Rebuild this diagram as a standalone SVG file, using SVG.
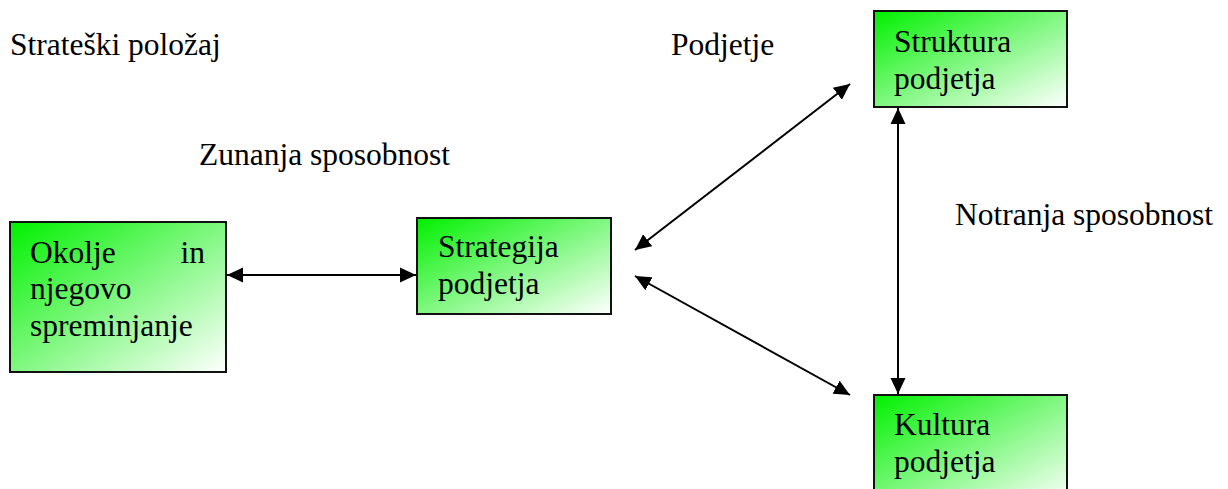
<svg xmlns="http://www.w3.org/2000/svg" width="1228" height="489" viewBox="0 0 1228 489">
<style>
.t{font-family:'Liberation Serif','Times New Roman',serif;font-size:31.5px;fill:#000}
.box{fill:url(#g);stroke:#111;stroke-width:2}
.c{stroke:#000;stroke-width:2;fill:none;marker-start:url(#a);marker-end:url(#a)}
</style>
<defs>
<linearGradient id="g" x1="0" y1="0" x2="1" y2="1">
<stop offset="0" stop-color="#00f000"/>
<stop offset="1" stop-color="#ffffff"/>
</linearGradient>
<marker id="a" viewBox="0 0 16 16" refX="16" refY="8" markerWidth="16" markerHeight="16" markerUnits="userSpaceOnUse" orient="auto-start-reverse">
<path d="M0,0.5 L16,8 L0,15.5 Z" fill="#000"/>
</marker>
</defs>
<rect width="1228" height="489" fill="#fff"/>
<g id="labels" class="t">
<text x="10" y="55">Strateški položaj</text>
<text x="671" y="55">Podjetje</text>
<text x="199" y="165">Zunanja sposobnost</text>
<text x="955" y="225">Notranja sposobnost</text>
</g>
<g id="okolje" class="t">
<rect class="box" x="10" y="222" width="216" height="150"/>
<text x="30" y="263">Okolje</text>
<text x="205" y="263" text-anchor="end">in</text>
<text x="30" y="299">njegovo</text>
<text x="30" y="336">spreminjanje</text>
</g>
<g id="strategija" class="t">
<rect class="box" x="417" y="218" width="194" height="96"/>
<text x="438" y="257">Strategija</text>
<text x="438" y="294">podjetja</text>
</g>
<g id="struktura" class="t">
<rect class="box" x="874" y="11" width="193" height="96"/>
<text x="894" y="52">Struktura</text>
<text x="894" y="89">podjetja</text>
</g>
<g id="kultura" class="t">
<rect class="box" x="874" y="395" width="193" height="110"/>
<text x="894" y="435">Kultura</text>
<text x="894" y="472">podjetja</text>
</g>
<g id="connectors">
<line class="c" x1="227" y1="275" x2="416" y2="275"/>
<line class="c" x1="635" y1="250" x2="850" y2="84"/>
<line class="c" x1="635" y1="276" x2="850" y2="395"/>
<line class="c" x1="898" y1="108" x2="898" y2="394"/>
</g>
</svg>
